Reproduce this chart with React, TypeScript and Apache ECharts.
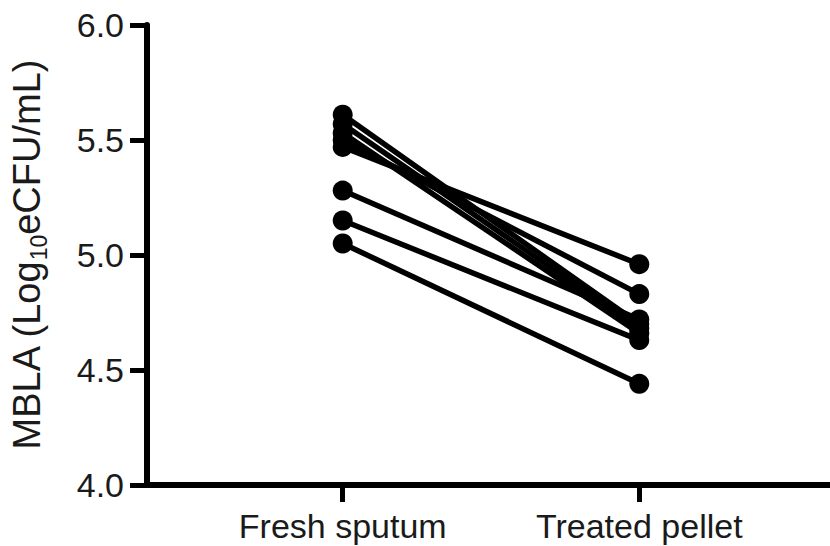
import React, { useEffect, useRef } from "react";
import * as echarts from "echarts";

const categories = ["Fresh sputum", "Treated pellet"];
const freshSputum = [5.61, 5.57, 5.53, 5.5, 5.47, 5.28, 5.15, 5.05];
const treatedPellet = [4.7, 4.68, 4.66, 4.83, 4.96, 4.72, 4.63, 4.44];
const yTicks = [4.0, 4.5, 5.0, 5.5, 6.0];

const FONT = "'Liberation Sans', Arial, Helvetica, sans-serif";

export default function App() {
  const ref = useRef<HTMLDivElement>(null);
  useEffect(() => {
    if (!ref.current) return;
    const chart = echarts.init(ref.current, undefined, { renderer: "svg" });
    const series = freshSputum.map((v, i) => ({
      type: "line",
      data: [
        [1, v],
        [2, treatedPellet[i]],
      ],
      symbol: "circle",
      symbolSize: 20,
      lineStyle: { color: "#000", width: 5.5 },
      itemStyle: { color: "#000" },
      silent: true,
    }));
    chart.setOption({
      animation: false,
      backgroundColor: "#fff",
      grid: { left: 146, right: 0, top: 25, bottom: 61 },
      xAxis: {
        type: "value",
        min: 0.3401,
        max: 2.6431,
        splitLine: { show: false },
        axisLine: { show: true, onZero: false, lineStyle: { color: "#000", width: 6 } },
        axisTick: {
          show: true,
          customValues: [1, 2],
          length: 17,
          inside: false,
          lineStyle: { color: "#000", width: 5 },
        },
        axisLabel: {
          customValues: [1, 2],
          formatter: (v: number) => categories[Math.round(v) - 1] ?? "",
          color: "#1a1a1a",
          fontFamily: FONT,
          fontSize: 34,
          margin: 24,
        },
      },
      yAxis: {
        type: "value",
        min: 4,
        max: 6,
        interval: 0.5,
        splitLine: { show: false },
        axisLine: { show: true, lineStyle: { color: "#000", width: 6 } },
        axisTick: { show: true, length: 17, inside: false, lineStyle: { color: "#000", width: 5 } },
        axisLabel: {
          formatter: (v: number) => v.toFixed(1),
          color: "#1a1a1a",
          fontFamily: FONT,
          fontSize: 34,
          margin: 23,
          customValues: yTicks,
        },
        name: "{m|MBLA (Log}{s|10}{m|eCFU/mL)}",
        nameLocation: "middle",
        nameRotate: 90,
        nameGap: 97,
        nameTextStyle: {
          rich: {
            m: { fontSize: 38, fontFamily: FONT, color: "#1a1a1a", lineHeight: 46 },
            s: { fontSize: 23, fontFamily: FONT, color: "#1a1a1a", verticalAlign: "bottom", lineHeight: 23 },
          },
        },
      },
      series,
    });
    return () => chart.dispose();
  }, []);
  return (
    <div
      ref={ref}
      style={{ position: "fixed", left: 0, top: 0, width: 830, height: 546 }}
    />
  );
}
